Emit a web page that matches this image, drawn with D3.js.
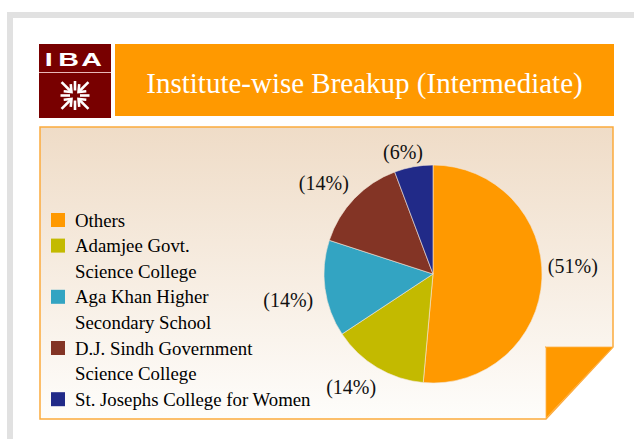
<!DOCTYPE html>
<html>
<head>
<meta charset="utf-8">
<script src="https://cdn.jsdelivr.net/npm/d3@7"></script>
<style>
  html, body { margin: 0; padding: 0; background: #ffffff; }
  svg { display: block; }
</style>
</head>
<body>
<svg id="chart" width="634" height="439"></svg>
<script>
// ---- data ----
const categories = [
  "Others",
  "Adamjee Govt. Science College",
  "Aga Khan Higher Secondary School",
  "D.J. Sindh Government Science College",
  "St. Josephs College for Women"
];
const legendLines = [
  ["Others"],
  ["Adamjee Govt.", "Science College"],
  ["Aga Khan Higher", "Secondary School"],
  ["D.J. Sindh Government", "Science College"],
  ["St. Josephs College for Women"]
];
const values = [36, 10, 10, 10, 4];
const colors = ["#ff9900", "#c3ba00", "#33a4c2", "#833425", "#212a88"];
const title = "Institute-wise Breakup (Intermediate)";

// ---- layout ----
const svg = d3.select("#chart");
const serif = "'Liberation Serif', 'DejaVu Serif', serif";
const labelNudge = [[0, -14], [-10, -7], [-6, 7], [-8, 6], [-5, 16]];

// page frame
svg.append("rect").attr("x", 7).attr("y", 12).attr("width", 640).attr("height", 440).attr("fill", "#e1e1e1");
svg.append("rect").attr("x", 13).attr("y", 18).attr("width", 640).attr("height", 440).attr("fill", "#ffffff");

// logo
const logo = svg.append("g");
logo.append("rect").attr("x", 39).attr("y", 44).attr("width", 72).attr("height", 74).attr("fill", "#780000");
logo.append("line").attr("x1", 39).attr("x2", 111).attr("y1", 72.5).attr("y2", 72.5)
  .attr("stroke", "#e8b8b8").attr("stroke-width", 1);
[["I", 48.6], ["B", 68.5], ["A", 91.6]].forEach(([ch, cx]) => {
  logo.append("text").text(ch)
    .attr("transform", `translate(${cx},66) scale(1.55,1)`)
    .attr("text-anchor", "middle")
    .attr("font-family", "'Liberation Sans', Arial, sans-serif")
    .attr("font-weight", "bold").attr("font-size", 18.5).attr("fill", "#ffffff");
});
// arrow emblem
const ecx = 75, ecy = 95.5;
const emb = logo.append("g").attr("stroke", "#ffffff").attr("stroke-width", 2.6)
  .attr("fill", "none").attr("stroke-linecap", "butt");
d3.range(8).forEach(i => {
  const a = i * Math.PI / 4;
  const dx = Math.sin(a), dy = -Math.cos(a);
  const r0 = 5, r1 = (i % 2 === 1) ? 19 : 14.5;
  emb.append("line")
    .attr("x1", ecx + dx * r0).attr("y1", ecy + dy * r0)
    .attr("x2", ecx + dx * r1).attr("y2", ecy + dy * r1);
  if (i % 2 === 1) {
    const px = -dy, py = dx;
    const hx = ecx + dx * r0, hy = ecy + dy * r0;
    emb.append("polyline").attr("points", [
      [hx + dx * 6 + px * 5, hy + dy * 6 + py * 5],
      [hx, hy],
      [hx + dx * 6 - px * 5, hy + dy * 6 - py * 5]
    ].map(p => p.join(",")).join(" "));
  }
});

// title bar
svg.append("rect").attr("x", 115).attr("y", 44).attr("width", 499).attr("height", 72).attr("fill", "#ff9900");
svg.append("text").text(title)
  .attr("x", 364.5).attr("y", 92.5).attr("text-anchor", "middle")
  .attr("font-family", serif).attr("font-size", 29).attr("fill", "#ffffff");

// panel
const defs = svg.append("defs");
const grad = defs.append("linearGradient").attr("id", "panelGrad")
  .attr("x1", 0).attr("y1", 0).attr("x2", 0).attr("y2", 1);
grad.append("stop").attr("offset", "0%").attr("stop-color", "#efdcc7");
grad.append("stop").attr("offset", "100%").attr("stop-color", "#fefdfb");

svg.append("path")
  .attr("d", "M40,127 H613 V347 L546,419 H40 Z")
  .attr("fill", "url(#panelGrad)")
  .attr("stroke", "#fbaa3c").attr("stroke-width", 1.5);
svg.append("path")
  .attr("d", "M545,347 H613 L546,418 V347 Z")
  .attr("fill", "#ff9900").attr("stroke", "#ffb24a").attr("stroke-width", 0.8);

// pie
const cx = 433, cy = 274, R = 109, labelR = 140;
const total = d3.sum(values);
const pie = d3.pie().sort(null).value(d => d);
const arcs = pie(values);
const arc = d3.arc().innerRadius(0).outerRadius(R);
const labelArc = d3.arc().innerRadius(labelR).outerRadius(labelR);

const g = svg.append("g").attr("transform", `translate(${cx},${cy})`);
g.selectAll("path.slice").data(arcs).join("path")
  .attr("class", "slice")
  .attr("d", arc)
  .attr("fill", (d, i) => colors[i])
  .attr("stroke", "#f4e6d8").attr("stroke-width", 0.6);

const pct = d3.format(".0%");
g.selectAll("text.lbl").data(arcs).join("text")
  .attr("class", "lbl")
  .attr("transform", (d, i) => {
    const [x, y] = labelArc.centroid(d);
    return `translate(${x + labelNudge[i][0]},${y + labelNudge[i][1]})`;
  })
  .attr("text-anchor", "middle").attr("dy", "0.35em")
  .attr("font-family", serif).attr("font-size", 20).attr("fill", "#111111")
  .text(d => "(" + pct(d.value / total) + ")");

// legend
const legendX = 51, legendTextX = 75, legendTop = 220, lineH = 25.6;
const leg = svg.append("g");
let line = 0;
legendLines.forEach((lines, i) => {
  const y0 = legendTop + line * lineH;
  leg.append("rect").attr("x", legendX).attr("y", y0 - 7).attr("width", 14).attr("height", 14)
    .attr("fill", colors[i]);
  lines.forEach((t, j) => {
    leg.append("text").text(t)
      .attr("x", legendTextX).attr("y", y0 + j * lineH).attr("dy", "0.35em")
      .attr("font-family", serif).attr("font-size", 18.8).attr("fill", "#000000");
  });
  line += lines.length;
});
</script>
</body>
</html>
